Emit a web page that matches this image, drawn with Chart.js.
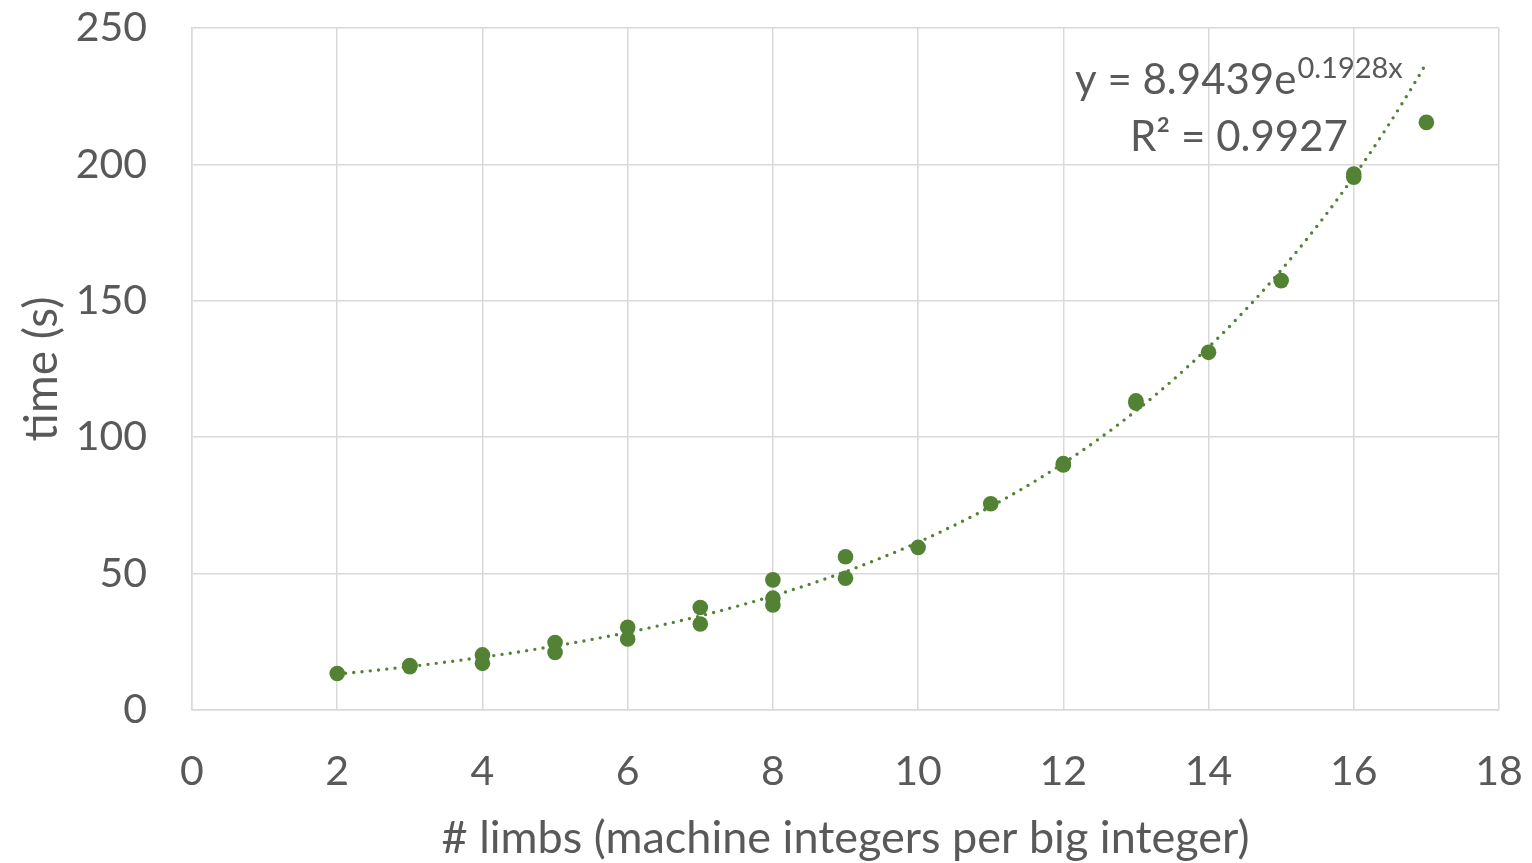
<!DOCTYPE html>
<html>
<head>
<meta charset="utf-8">
<script src="https://cdn.jsdelivr.net/npm/chart.js@4"></script>
<style>
  body { margin: 0; background: #fff; }
</style>
</head>
<body>
<canvas id="chart" width="1532" height="863"></canvas>
<script>
// measured runs: limbs vs. time in seconds
const limbs = [2, 3, 3, 4, 4, 5, 5, 6, 6, 7, 7, 8, 8, 8, 9, 9, 10, 11, 12, 12, 13, 13, 14, 15, 16, 16, 17];
const times = [13.4, 15.9, 16.3, 20.2, 17.1, 24.7, 21.1, 30.3, 26.0, 37.6, 31.5, 47.7, 41.0, 38.5, 56.2, 48.3, 59.6, 75.6, 89.8, 90.3, 112.5, 113.3, 131.1, 157.4, 195.3, 196.5, 215.4];

// exponential trendline as printed on the chart
const fitA = 8.9439;
const fitB = 0.1928;
const fitFrom = 2;
const fitTo = 17;
const fitLabel = ['y = 8.9439e', '0.1928x', 'R² = 0.9927'];

const green = '#548235';
const textColor = '#595959';
const font = 'Lato';

const scatterData = limbs.map((x, i) => ({ x: x, y: times[i] }));

const trendData = [];
for (let x = fitFrom; x <= fitTo + 1e-9; x += 0.1) {
    trendData.push({ x: x, y: fitA * Math.exp(fitB * x) });
}

// writes the trendline equation in the upper right
const equationLabel = {
    id: 'equationLabel',
    afterDatasetsDraw(chart) {
        const ctx = chart.ctx;
        ctx.save();
        ctx.fillStyle = textColor;
        ctx.textBaseline = 'alphabetic';
        ctx.textAlign = 'left';
        ctx.font = '42px ' + font;
        const x0 = 1075;
        ctx.fillText(fitLabel[0], x0, 94);
        const w = ctx.measureText(fitLabel[0]).width;
        ctx.font = '29px ' + font;
        ctx.fillText(fitLabel[1], x0 + w + 1, 78);
        ctx.font = '42px ' + font;
        ctx.fillText(fitLabel[2], 1130, 151);
        ctx.restore();
    }
};

new Chart(document.getElementById('chart'), {
    type: 'scatter',
    data: {
        datasets: [
            {
                label: 'trend',
                type: 'line',
                data: trendData,
                borderColor: green,
                borderWidth: 3.4,
                borderDash: [0, 8.3],
                borderCapStyle: 'round',
                pointRadius: 0,
                fill: false,
                tension: 0,
                order: 0,
            },
            {
                label: 'time',
                data: scatterData,
                backgroundColor: green,
                borderColor: green,
                pointRadius: 7.8,
                pointBorderWidth: 0,
                order: 1,
            },
        ],
    },
    options: {
        responsive: false,
        animation: false,
        layout: { padding: { top: 28, right: 33, left: 0, bottom: 0 } },
        plugins: {
            legend: { display: false },
            tooltip: { enabled: false },
        },
        scales: {
            x: {
                type: 'linear',
                min: 0,
                max: 18,
                ticks: { stepSize: 2, color: textColor, font: { family: font, size: 41 }, padding: 37 },
                grid: { color: '#d9d9d9', lineWidth: 1.5, drawTicks: false },
                border: { color: '#d9d9d9', width: 1.5 },
                title: {
                    display: true,
                    text: '# limbs (machine integers per big integer)',
                    color: textColor,
                    font: { family: font, size: 45, lineHeight: 1 },
                    padding: { top: 0, bottom: 2 },
                },
                afterFit(scale) {
                    scale.height = 153;
                    scale.paddingLeft = 0;
                    scale.paddingRight = 0;
                },
            },
            y: {
                min: 0,
                max: 250,
                ticks: { stepSize: 50, color: textColor, font: { family: font, size: 41 }, padding: 45 },
                grid: { color: '#d9d9d9', lineWidth: 1.5, drawTicks: false },
                border: { color: '#d9d9d9', width: 1.5 },
                title: {
                    display: true,
                    text: 'time (s)',
                    color: textColor,
                    font: { family: font, size: 46, lineHeight: 1 },
                    padding: { top: 19, bottom: 0 },
                },
                afterFit(scale) {
                    scale.width = 192;
                    scale.paddingTop = 0;
                    scale.paddingBottom = 0;
                },
            },
        },
    },
    plugins: [equationLabel],
});
</script>
</body>
</html>
